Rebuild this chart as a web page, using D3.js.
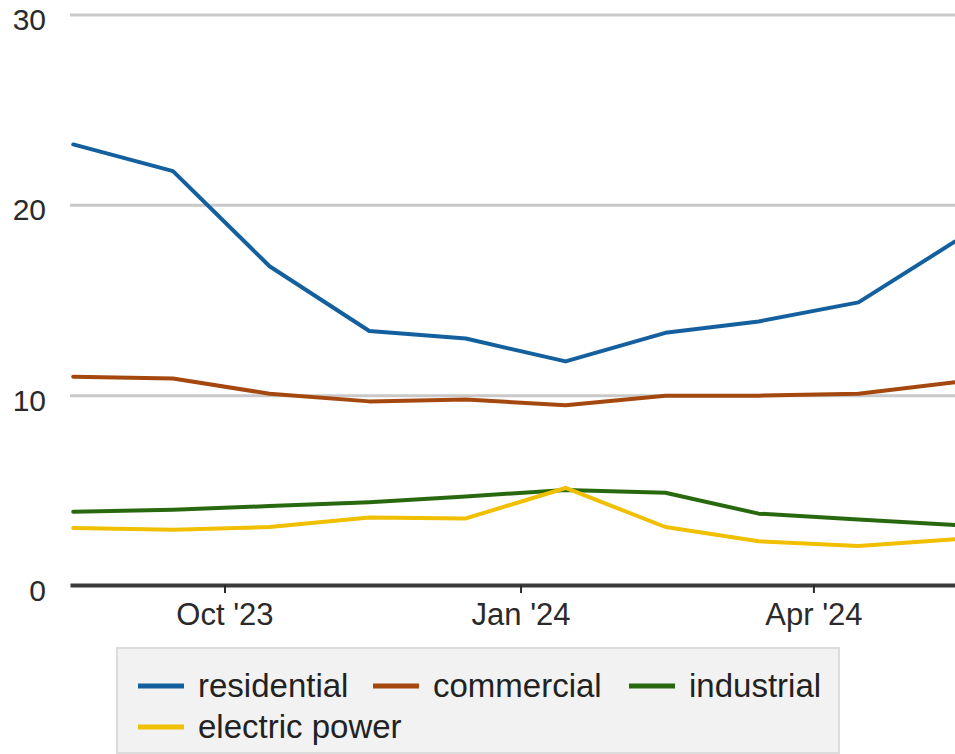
<!DOCTYPE html>
<html>
<head>
<meta charset="utf-8">
<script src="https://cdn.jsdelivr.net/npm/d3@7"></script>
<style>
  html, body { margin: 0; padding: 0; background: #fff; }
  svg { display: block; font-family: "Liberation Sans", Arial, sans-serif; }
</style>
</head>
<body>
<svg id="chart" width="955" height="754"></svg>
<script>
// Monthly observations (mid-month), Aug 2023 – May 2024
const months = ["2023-08-15", "2023-09-15", "2023-10-15", "2023-11-15", "2023-12-15",
                "2024-01-15", "2024-02-15", "2024-03-15", "2024-04-15", "2024-05-15"];
const residential   = [23.2, 21.8, 16.8, 13.4, 13.0, 11.8, 13.3, 13.9, 14.9, 18.1];
const commercial    = [11.0, 10.9, 10.1, 9.7, 9.8, 9.5, 10.0, 10.0, 10.1, 10.7];
const industrial    = [3.9, 4.0, 4.2, 4.4, 4.7, 5.05, 4.9, 3.8, 3.5, 3.2];
const electricPower = [3.05, 2.95, 3.1, 3.6, 3.55, 5.15, 3.1, 2.35, 2.1, 2.45];

const seriesNames  = ["residential", "commercial", "industrial", "electric power"];
const seriesColors = ["#14609e", "#a4480f", "#28690f", "#efbf00"];
const yTicks = [0, 10, 20, 30];
const xTickDates = ["2023-10-01", "2024-01-01", "2024-04-01"];
const xTickLabels = ["Oct '23", "Jan '24", "Apr '24"];

const parse = d3.utcParse("%Y-%m-%d");
const dates = months.map(parse);
const seriesValues = [residential, commercial, industrial, electricPower];
const series = seriesNames.map((name, i) => ({
  name, color: seriesColors[i],
  points: dates.map((d, j) => ({ date: d, value: seriesValues[i][j] }))
}));

const svg = d3.select("#chart");
const plotLeft = 70, plotRight = 955, plotTop = 15, plotBottom = 586;

const x = d3.scaleUtc()
  .domain([parse("2023-08-14"), parse("2024-05-15")])
  .range([plotLeft, plotRight]);
const y = d3.scaleLinear().domain([0, 30]).range([plotBottom, plotTop]);

// horizontal gridlines
svg.append("g")
  .selectAll("line")
  .data(yTicks.filter(t => t > 0))
  .join("line")
  .attr("x1", plotLeft).attr("x2", plotRight)
  .attr("y1", d => y(d)).attr("y2", d => y(d))
  .attr("stroke", "#c9c9c9").attr("stroke-width", 3);

// y labels
svg.append("g")
  .selectAll("text")
  .data(yTicks)
  .join("text")
  .attr("x", 46)
  .attr("y", d => y(d) + 15)
  .attr("text-anchor", "end")
  .attr("font-size", 30)
  .attr("fill", "#2a2a2a")
  .text(d => d);

// data lines
const line = d3.line().x(d => x(d.date)).y(d => y(d.value));
svg.append("g")
  .selectAll("path")
  .data(series)
  .join("path")
  .attr("d", d => line(d.points))
  .attr("fill", "none")
  .attr("stroke", d => d.color)
  .attr("stroke-width", 4)
  .attr("stroke-linejoin", "round")
  .attr("stroke-linecap", "round");

// x axis baseline with quarter ticks
const xAxis = d3.axisBottom(x)
  .tickValues(xTickDates.map(parse))
  .tickFormat((d, i) => xTickLabels[i])
  .tickSize(8)
  .tickPadding(10)
  .tickSizeOuter(0);
const gx = svg.append("g")
  .attr("transform", `translate(0,${y(0) - 1})`)
  .call(xAxis);
gx.select(".domain").attr("stroke", "#3a3a3a").attr("stroke-width", 4);
gx.selectAll(".tick line").attr("stroke", "#2a2a2a").attr("stroke-width", 2);
gx.selectAll(".tick text")
  .attr("font-size", 31)
  .attr("font-family", "'Liberation Sans', Arial, sans-serif")
  .attr("fill", "#2a2a2a");

// legend
const legend = svg.append("g");
legend.append("rect")
  .attr("x", 117).attr("y", 648)
  .attr("width", 722).attr("height", 105)
  .attr("fill", "#f2f2f2").attr("stroke", "#dcdcdc").attr("stroke-width", 2);

const legendPos = [
  { sx: 138, row: 0 }, { sx: 373, row: 0 }, { sx: 629, row: 0 }, { sx: 138, row: 1 }
];
const items = legend.selectAll("g.item")
  .data(series)
  .join("g")
  .attr("class", "item")
  .attr("transform", (d, i) => `translate(${legendPos[i].sx},${686 + legendPos[i].row * 41})`);
items.append("line")
  .attr("x1", 0).attr("x2", 46)
  .attr("stroke", d => d.color).attr("stroke-width", 5);
items.append("text")
  .attr("x", 60).attr("y", 11)
  .attr("font-size", 33)
  .attr("fill", "#222")
  .text(d => d.name);
</script>
</body>
</html>
